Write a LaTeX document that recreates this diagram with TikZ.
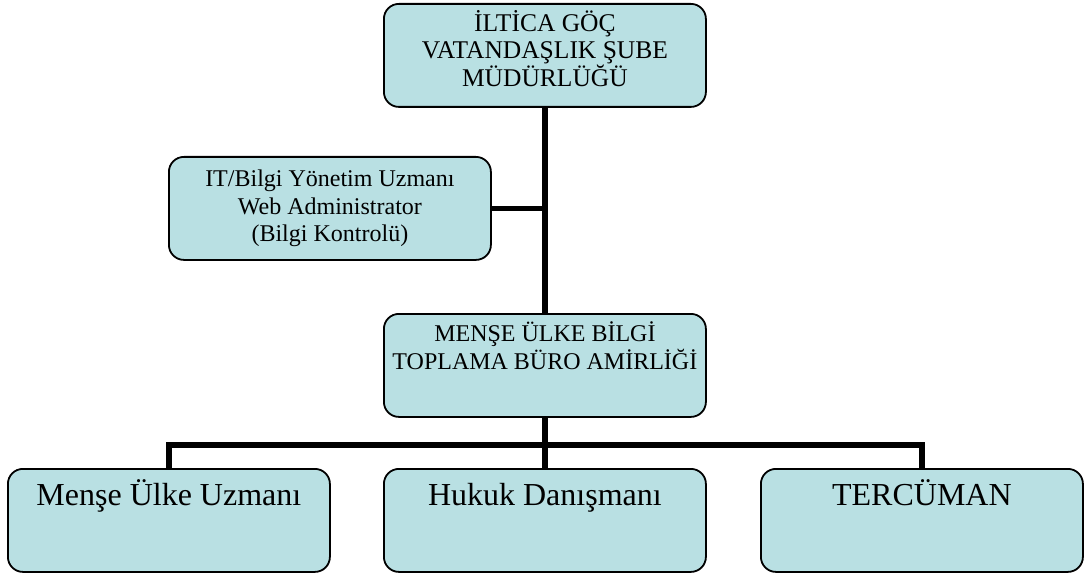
\documentclass[tikz,border=0pt]{standalone}
\usepackage{fontspec}
\setmainfont{Liberation Serif}
\definecolor{boxfill}{RGB}{185,224,227}
\newcommand\boxtext[4]{\parbox[c][103pt][t]{322pt}{\centering\fontsize{#1}{#2}\selectfont\rule{0pt}{#3pt}#4\par}}
\begin{document}
\begin{tikzpicture}[x=1pt,y=-1pt,
  box/.style={draw=black, line width=1.8pt, fill=boxfill, rounded corners=15pt,
    inner sep=0pt, minimum width=322pt, minimum height=103pt, anchor=north west},
  conn/.style={draw=black, line width=5.5pt}]
\useasboundingbox (0,0) rectangle (1090,575);
\node[box] (top) at (383,3) {\boxtext{25.5}{27}{28}{İLTİCA GÖÇ\\VATANDAŞLIK ŞUBE\\MÜDÜRLÜĞÜ}};
\node[box] (it) at (168,156) {\boxtext{24}{27.5}{30}{IT/Bilgi Yönetim Uzmanı\\Web Administrator\\(Bilgi Kontrolü)}};
\node[box] (mid) at (383,313) {\boxtext{24}{28}{28}{MENŞE ÜLKE BİLGİ\\TOPLAMA BÜRO AMİRLİĞİ}};
\node[box] (bl) at (7,468) {\boxtext{32}{36}{37}{Menşe Ülke Uzmanı}};
\node[box] (bm) at (383,468) {\boxtext{32}{36}{37}{Hukuk Danışmanı}};
\node[box] (br) at (760,468) {\boxtext{32}{36}{37}{TERCÜMAN}};
\coordinate (bus) at (544,445);
\draw[conn] (top.south) -- (mid.north);
\draw[conn] (it.east) -- (it.east -| top.south);
\draw[conn] (mid.south) -- (bm.north);
\draw[conn] (bl.north) |- (bus) -| (br.north);
\end{tikzpicture}
\end{document}
